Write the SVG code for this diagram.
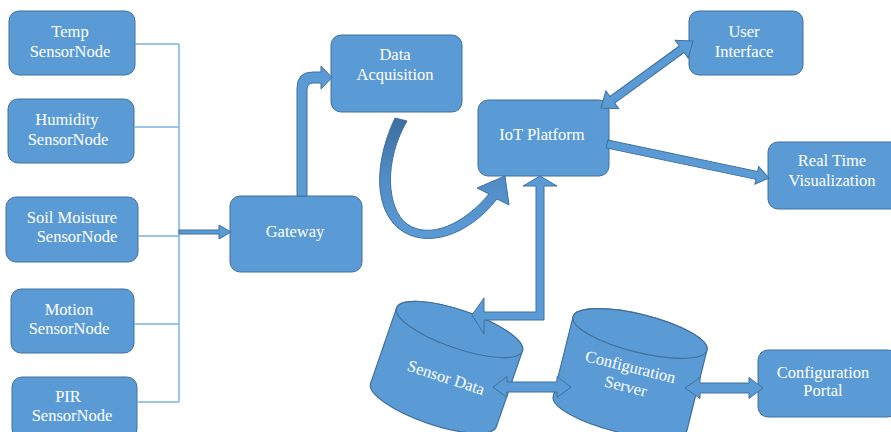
<svg xmlns="http://www.w3.org/2000/svg" width="891" height="432" viewBox="0 0 891 432">
<style>
.box{fill:#5B9BD5;stroke:#41719C;stroke-width:1}
.cyl{fill:#5B9BD5;stroke:#41719C;stroke-width:1.2}
.t{font-family:'Liberation Serif','Times New Roman',serif;font-size:16.5px;fill:#fff;text-anchor:middle}
.thin{fill:none;stroke:#7FB1E0;stroke-width:1.5}
.arr{fill:#5B9BD5;stroke:#41719C;stroke-width:1}
</style>
<defs>
<linearGradient id="cg" x1="0" y1="0" x2="0" y2="1">
<stop offset="0" stop-color="#3D6E9E"/>
<stop offset="0.45" stop-color="#4F8AC4"/>
<stop offset="1" stop-color="#5B9BD5"/>
</linearGradient>
</defs>
<rect width="891" height="432" fill="#fff"/>

<g id="temp"><rect class="box" x="9" y="11" width="126" height="64" rx="10"/><text class="t" x="70" y="37">Temp</text><text class="t" x="70" y="57">SensorNode</text></g>
<g id="humidity"><rect class="box" x="8" y="99" width="126" height="64" rx="10"/><text class="t" x="67" y="125">Humidity</text><text class="t" x="68" y="145">SensorNode</text></g>
<g id="soil"><rect class="box" x="6" y="197" width="132" height="65" rx="10"/><text class="t" x="72" y="223">Soil Moisture</text><text class="t" x="77" y="242">SensorNode</text></g>
<g id="motion"><rect class="box" x="11" y="289" width="123" height="64" rx="10"/><text class="t" x="69" y="315">Motion</text><text class="t" x="69" y="334">SensorNode</text></g>
<g id="pir"><rect class="box" x="12" y="377" width="125" height="62" rx="10"/><text class="t" x="68" y="402">PIR</text><text class="t" x="72" y="421">SensorNode</text></g>
<g id="gateway"><rect class="box" x="230" y="196" width="132" height="76" rx="10"/><text class="t" x="295" y="237">Gateway</text></g>
<g id="dataacq"><rect class="box" x="331" y="35" width="131" height="77" rx="10"/><text class="t" x="395" y="60">Data</text><text class="t" x="395" y="80">Acquisition</text></g>
<g id="iot"><rect class="box" x="478" y="100" width="131" height="76" rx="10"/><text class="t" x="542" y="140">IoT Platform</text></g>
<g id="ui"><rect class="box" x="689" y="11" width="114" height="64" rx="10"/><text class="t" x="744" y="37">User</text><text class="t" x="744" y="57">Interface</text></g>
<g id="rtv"><rect class="box" x="768" y="142" width="134" height="67" rx="10"/><text class="t" x="832" y="166">Real Time</text><text class="t" x="832" y="186">Visualization</text></g>
<g id="portal"><rect class="box" x="758" y="350" width="140" height="67" rx="10"/><text class="t" x="823" y="378">Configuration</text><text class="t" x="823" y="396">Portal</text></g>
<g id="sensordata">
<g transform="translate(459.5,329.5) rotate(19)">
<path class="cyl" d="M-66.5,0 L-66.5,80 A66.5,19 0 0 0 66.5,80 L66.5,0 A66.5,19 0 0 0 -66.5,0 Z"/>
<ellipse class="cyl" cx="0" cy="0" rx="66.5" ry="19"/>
</g>
<text class="t" transform="translate(446,378) rotate(18)" x="0" y="5">Sensor Data</text>
</g>
<g id="configserver">
<g transform="translate(640,333.5) rotate(14)">
<path class="cyl" d="M-69,0 L-69,82 A69,19 0 0 0 69,82 L69,0 A69,19 0 0 0 -69,0 Z"/>
<ellipse class="cyl" cx="0" cy="0" rx="69" ry="19"/>
</g>
<g transform="translate(628,377) rotate(14)">
<text class="t" x="0" y="-5">Configuration</text>
<text class="t" x="0" y="15">Server</text>
</g>
</g>

<g id="connectors">
<path class="thin" d="M135,44 H179 M134,127 H179 M138,236 H179 M134,324 H179 M137,402 H179 M179,44 V402"/>
<path class="arr" d="M179,230 L219,230 L219,225 L231,232 L219,239 L219,234 L179,234 Z"/>
<path class="arr" d="M297,196 L297,88 Q297,72 313,72 L321,72 L321,66 L332,77.5 L321,89 L321,83 L313,83 Q307,83 307,90 L307,196 Z"/>
<path d="M395,118 C376,158 372,205 398,228 C425,250 468,236 497,199 L509,205 L505,176 L477,188 L489,194 C464,224 430,240 407,224 C386,208 384,160 407,121 Z" fill="url(#cg)" stroke="#41719C" stroke-width="1"/>
<polygon class="arr" transform="translate(601,108) rotate(-36.06)" points="0,0 14,-11 14,-4 99.8,-4 99.8,-11 113.8,0 99.8,11 99.8,4 14,4 14,11"/>
<polygon class="arr" transform="translate(607,144) rotate(11.85)" points="0,-4 153,-4 153,-9 165.5,0 153,9 153,4 0,4"/>
<path class="arr" d="M536,186 L523,186 L540,176 L557,186 L544,186 L544,320 L484,320 L484,334 L472,315 L484,298 L484,312 L536,312 Z"/>
<polygon class="arr" points="493,387 507,376.5 507,382 557,382 557,376.5 571,387 557,397.5 557,392 507,392 507,397.5"/>
<polygon class="arr" points="685,388 700,377.5 700,383 749,383 749,377.5 763,388 749,398.5 749,393 700,393 700,398.5"/>
</g>
</svg>
